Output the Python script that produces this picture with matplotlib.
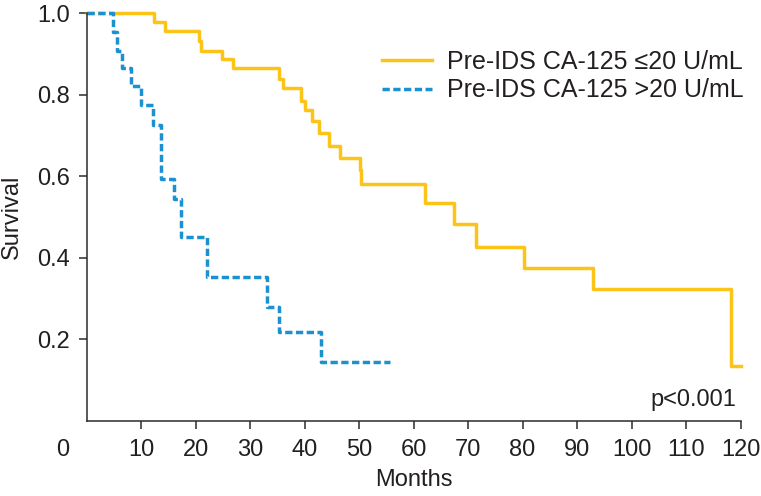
import matplotlib
matplotlib.use("Agg")
import matplotlib.pyplot as plt

plt.rcParams['font.family'] = ['Liberation Sans', 'DejaVu Sans']

# Kaplan-Meier steps (months, survival after the drop)
low_months = [0, 12.3, 14.4, 20.7, 21.1, 24.8, 26.9, 35.4, 36.1, 39.4, 40.1, 41.4,
              42.7, 44.5, 46.5, 50.1, 50.3, 62.2, 67.5, 71.4, 80.3, 92.9, 118.3, 120]
low_surv = [1.0, 0.977, 0.955, 0.932, 0.908, 0.886, 0.865, 0.838, 0.815, 0.784, 0.762, 0.735,
            0.706, 0.675, 0.645, 0.615, 0.580, 0.533, 0.482, 0.427, 0.374, 0.322, 0.134, 0.134]

high_months = [0, 4.8, 5.6, 6.5, 8.2, 10.0, 12.2, 13.6, 16.1, 17.3, 22.2, 33.1, 35.3, 43.1, 55.6]
high_surv = [1.0, 0.954, 0.907, 0.866, 0.821, 0.774, 0.726, 0.592, 0.543, 0.451, 0.352,
             0.280, 0.217, 0.145, 0.145]

labels = ['Pre-IDS CA-125 \u226420 U/mL', 'Pre-IDS CA-125 >20 U/mL']
xticks = [10, 20, 30, 40, 50, 60, 70, 80, 90, 100, 110, 120]
yticks = [0.2, 0.4, 0.6, 0.8, 1.0]

yellow = '#FCC419'
blue = '#1B91D1'
dark = '#231F20'

fig = plt.figure(figsize=(7.61, 4.96), dpi=100)
ax = fig.add_axes([86.5 / 761, 75.3 / 496, 654 / 761, 407.7 / 496])

ax.step(low_months, low_surv, where='post', color=yellow, lw=2.5,
        clip_on=False, label=labels[0])
ax.step(high_months, high_surv, where='post', color=blue, lw=2.5,
        dashes=(2.1, 1.0), gapcolor='white', clip_on=False, label=labels[1])

ax.set_xlim(0, 120)
ax.set_ylim(0, 1.0)
ax.set_xticks(xticks)
ax.set_xticklabels([str(t) for t in xticks])
ax.set_yticks(yticks)
ax.set_yticklabels(['%.1f' % t for t in yticks])

for s in ['top', 'right']:
    ax.spines[s].set_visible(False)
for s in ['left', 'bottom']:
    ax.spines[s].set_color('#2b2b2b')
    ax.spines[s].set_linewidth(1.1)
ax.tick_params(axis='both', direction='out', length=6, width=1.1, color='#2b2b2b',
               labelsize=17, labelcolor=dark)
ax.tick_params(axis='x', pad=7)
ax.tick_params(axis='y', pad=6)

# shared origin label
fig.text(62.7 / 761, 1 - 450 / 496, '0', ha='center', va='center', fontsize=17, color=dark)

ax.set_xlabel('Months', fontsize=17, color=dark)
ax.xaxis.set_label_coords(0.5, -(469 - 420.7) / 407.7)
ax.set_ylabel('Survival', fontsize=17, color=dark)
ax.yaxis.set_label_coords(-(86.5 - 23) / 654, 0.5)

ax.text(736 / 761, 1 - 406 / 496, 'p<0.001', transform=fig.transFigure,
        ha='right', va='baseline', fontsize=17, color=dark)

ax.legend(loc='upper left', bbox_to_anchor=(382 / 761, 1 - 50 / 496),
          bbox_transform=fig.transFigure, frameon=False, fontsize=18,
          borderpad=0, borderaxespad=0, handlelength=2.0, handletextpad=0.58,
          labelspacing=0.17, labelcolor=dark)

fig.savefig('out.png', dpi=100)
